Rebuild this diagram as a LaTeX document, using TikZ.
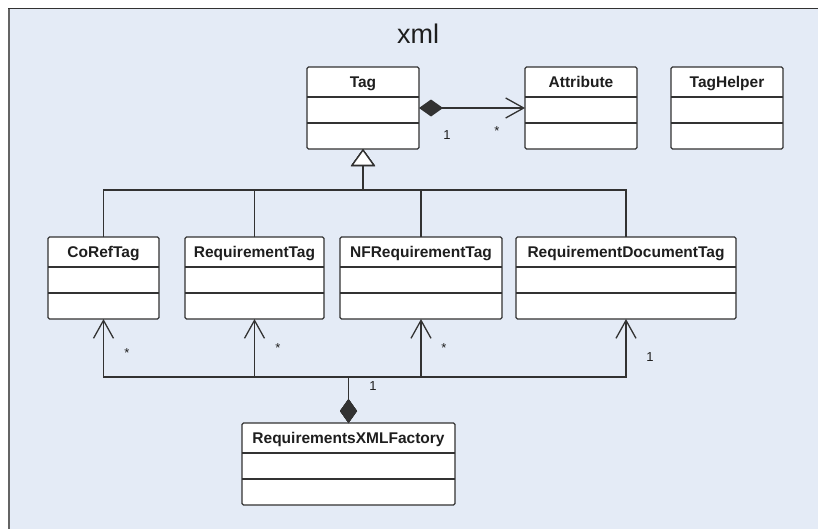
\documentclass[tikz,border=0pt]{standalone}
\usepackage{fontspec}
\setmainfont{Liberation Sans}
\setsansfont{Liberation Sans}
\usetikzlibrary{arrows.meta, positioning, calc}
\usepackage{xcolor}
\definecolor{pkgfill}{RGB}{228, 235, 246}
\definecolor{pkgborder}{RGB}{100, 100, 100}
\definecolor{linedark}{RGB}{50, 50, 50}
\definecolor{textdark}{RGB}{30, 30, 30}

% class box: name, left, top, width, title
\newcommand{\umlclass}[5]{%
  \node[classbox, minimum width=#4, anchor=north west] (#1) at (#2,#3) {};
  \node[classname, anchor=base] (#1-name) at ([yshift=-20pt]#1.north) {#5};
  \draw[compline] ([yshift=-30pt]#1.north west) -- ([yshift=-30pt]#1.north east);
  \draw[compline] ([yshift=-56pt]#1.north west) -- ([yshift=-56pt]#1.north east);
}

\begin{document}
\begin{tikzpicture}[
    x=1pt, y=-1pt,
    classbox/.style={rectangle, draw=linedark, fill=white, rounded corners=1.5pt, minimum height=82pt, inner sep=0pt, outer sep=0pt, line width=1.3pt},
    classname/.style={font=\fontsize{15.5}{18}\selectfont\bfseries, text=textdark, inner sep=0pt},
    compline/.style={draw=linedark, line width=1.3pt},
    compose/.style={draw=linedark, line width=1.3pt, arrows={{Diamond[length=24pt, width=17pt]}-{Straight Barb[length=18pt, width=20pt]}}},
    inherit/.style={draw=linedark, line width=1.3pt, arrows={-{Triangle[length=17pt, width=24pt, fill=white]}}},
    mult/.style={font=\fontsize{13}{15}\selectfont, text=textdark, inner sep=0pt}
]
\useasboundingbox (0,0) rectangle (818,528);

% xml package
\fill[pkgfill] (9,8) rectangle (830,540);
\draw[pkgborder, line width=2.5pt] (9,540) -- (9,8);
\draw[linedark, line width=1pt] (8,8) -- (830,8);
\node[font=\fontsize{27}{30}\selectfont, text=textdark, anchor=base] (title) at (418,43) {xml};

% classes
\umlclass{tag}{307}{67}{112pt}{Tag}
\umlclass{attribute}{525}{67}{112pt}{Attribute}
\umlclass{taghelper}{671}{67}{112pt}{TagHelper}
\umlclass{coref}{48}{237}{111pt}{CoRefTag}
\umlclass{reqtag}{185}{237}{139pt}{RequirementTag}
\umlclass{nfreqtag}{340}{237}{162pt}{NFRequirementTag}
\umlclass{reqdoctag}{516}{237}{220pt}{RequirementDocumentTag}
\umlclass{factory}{242}{423}{213pt}{RequirementsXMLFactory}

% Tag -> Attribute
\draw[compose] (tag.east) -- (attribute.west);
\node[mult] (tagone) at (447,135) {1};
\node[mult] (attrmany) at (497,131) {*};

% generalization
\coordinate (genbar) at (0,190);
\draw[inherit] (coref.north) |- (tag.south |- genbar) -- (tag.south);
\draw[inherit] (reqtag.north) |- (tag.south |- genbar) -- (tag.south);
\draw[inherit] (nfreqtag.north) |- (tag.south |- genbar) -- (tag.south);
\draw[inherit] (reqdoctag.north) |- (tag.south |- genbar) -- (tag.south);

% factory -> tags
\coordinate (assocbar) at (0,377);
\draw[compose] (factory.north) -- (factory.north |- assocbar) -| (coref.south);
\draw[compose] (factory.north) -- (factory.north |- assocbar) -| (reqtag.south);
\draw[compose] (factory.north) -- (factory.north |- assocbar) -| (nfreqtag.south);
\draw[compose] (factory.north) -- (factory.north |- assocbar) -| (reqdoctag.south);
\node[mult] (factoryone) at (373,386) {1};
\node[mult] (corefmany) at (127,353) {*};
\node[mult] (reqmany) at (278,348) {*};
\node[mult] (nfmany) at (444,348) {*};
\node[mult] (docone) at (650,357) {1};

\end{tikzpicture}
\end{document}
